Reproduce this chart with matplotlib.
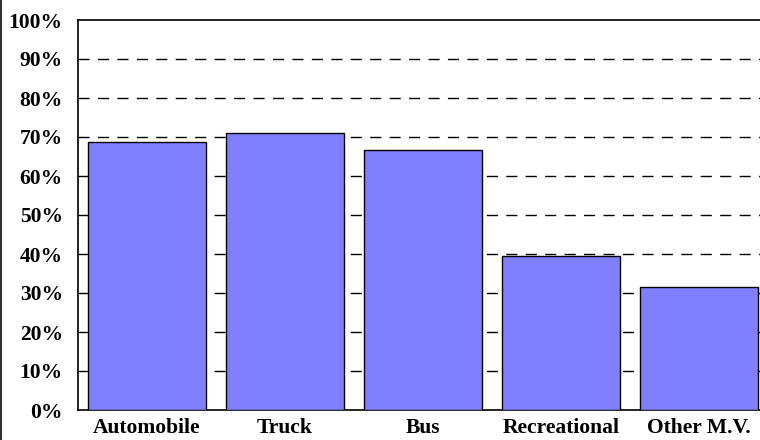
import matplotlib
matplotlib.use("Agg")
import matplotlib.pyplot as plt
from matplotlib.lines import Line2D

categories = ["Automobile", "Truck", "Bus", "Recreational", "Other M.V."]
values = [68.6, 71.1, 66.7, 39.5, 31.5]
yticks = [0, 10, 20, 30, 40, 50, 60, 70, 80, 90, 100]
ytick_labels = [f"{v}%" for v in yticks]

fig = plt.figure(figsize=(7.6, 4.4), dpi=100)
W, H = 760, 440
left, right, top, bottom = 78, 760, 20, 410
ax = fig.add_axes([left / W, 1 - bottom / H, (right - left) / W, (bottom - top) / H])

x = list(range(len(categories)))
ax.bar(x, values, width=0.85, color="#8080FF", edgecolor="black", linewidth=1.0, zorder=3)

ax.set_ylim(0, 100)
ax.set_xlim(-0.5, 4.5 - 8 / 138)
ax.set_yticks(yticks)
ax.set_yticklabels(ytick_labels)
ax.set_xticks(x)
ax.set_xticklabels(categories)

for v in yticks[1:-1]:
    ax.axhline(v, color="black", linewidth=1.0, linestyle=(0, (8, 6)), zorder=1)

for lab in ax.get_yticklabels():
    lab.set_fontfamily("Liberation Serif")
    lab.set_fontweight("bold")
    lab.set_fontsize(15.5)
for lab in ax.get_xticklabels():
    lab.set_fontfamily("Liberation Serif")
    lab.set_fontweight("bold")
    lab.set_fontsize(15.5)

ax.tick_params(axis="y", length=0, pad=11)
ax.tick_params(axis="x", length=0, pad=6)

for s in ["left", "bottom", "top"]:
    ax.spines[s].set_linewidth(1.2)
    ax.spines[s].set_color("black")
ax.spines["right"].set_visible(False)

fig.add_artist(Line2D([1 / W, 1 / W], [0, 1], color="#333333", linewidth=1.5, transform=fig.transFigure))

fig.savefig("out.png", dpi=100)
